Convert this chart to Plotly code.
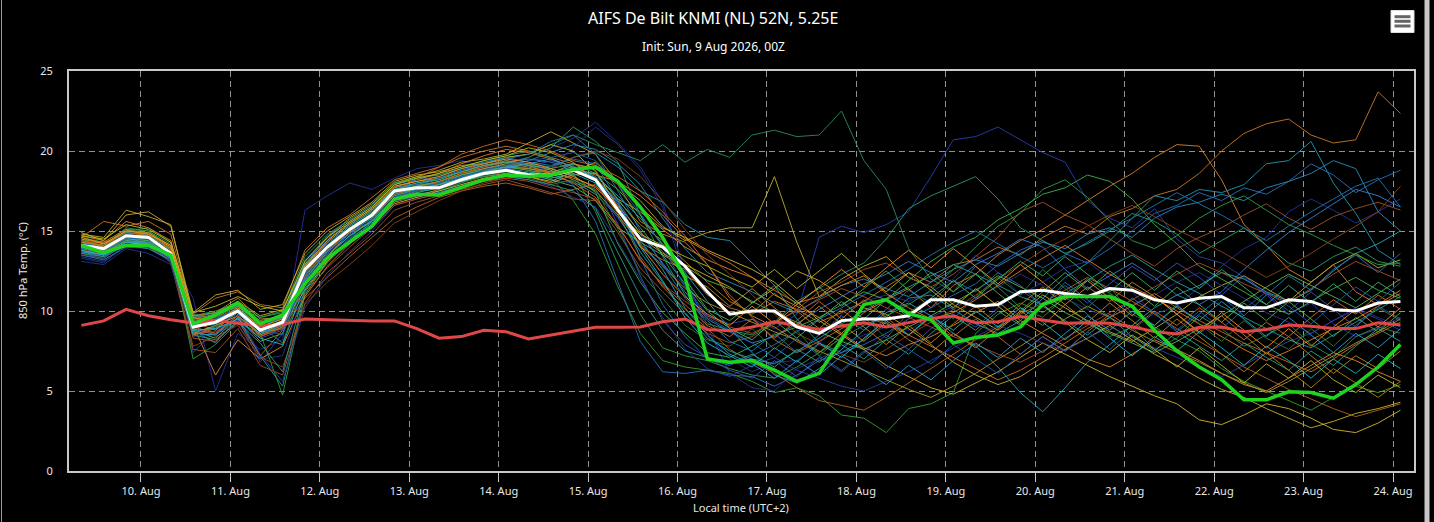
import pandas as pd
import plotly.graph_objects as go

# forecast steps in local time (UTC+2), 6-hourly
times = pd.date_range("2026-08-09 08:00", periods=60, freq="6h")

# ensemble mean (white)
ens_mean = [
    14.1, 13.9, 14.7, 14.6, 13.6, 9.0, 9.3, 10.0, 8.8, 9.3,
    12.6, 14.0, 15.1, 16.0, 17.5, 17.7, 17.7, 18.2, 18.6, 18.8,
    18.5, 18.5, 18.8, 18.2, 16.3, 14.5, 14.0, 12.8, 11.2, 9.8,
    10.0, 10.0, 9.0, 8.6, 9.4, 9.5, 9.5, 9.7, 10.7, 10.7,
    10.3, 10.4, 11.2, 11.3, 11.1, 10.9, 11.4, 11.3, 10.7, 10.5,
    10.8, 10.9, 10.2, 10.2, 10.7, 10.6, 10.1, 10.0, 10.5, 10.6,
]

# control run (green)
control = [
    14.1, 13.65, 14.1, 14.1, 13.5, 9.2, 9.75, 10.5, 9.2, 9.75,
    11.7, 13.3, 14.3, 15.3, 17.0, 17.3, 17.25, 17.7, 18.2, 18.5,
    18.4, 18.5, 18.85, 19.0, 18.1, 16.5, 14.6, 12.1, 7.0, 6.8,
    6.9, 6.3, 5.6, 6.1, 8.2, 10.4, 10.7, 9.85, 9.45, 8.0,
    8.35, 8.5, 9.0, 10.4, 10.9, 10.9, 10.9, 10.3, 8.8, 7.5,
    6.5, 5.7, 4.45, 4.45, 4.95, 4.9, 4.55, 5.4, 6.5, 7.9,
]

# climatology (red)
climate = [
    9.1, 9.38, 10.1, 9.7, 9.45, 9.25, 9.4, 9.23, 9.06, 9.15,
    9.5, 9.45, 9.4, 9.38, 9.38, 8.9, 8.3, 8.4, 8.8, 8.7,
    8.25, 8.5, 8.75, 8.98, 8.98, 9.0, 9.33, 9.5, 8.85, 8.77,
    9.0, 9.33, 9.1, 8.85, 9.06, 9.27, 9.0, 9.27, 9.54, 9.69,
    9.27, 9.33, 9.65, 9.44, 9.23, 9.27, 9.23, 9.02, 8.71, 8.56,
    8.98, 9.0, 8.71, 8.85, 9.12, 9.04, 8.9, 8.9, 9.27, 9.12,
]

member_01 = [
    13.3, 13.0, 14.2, 14.4, 13.2, 10.8, 5.0, 8.6, 7.6, 8.2,
    16.3, 17.2, 18.0, 17.6, 18.3, 18.9, 19.1, 19.4, 19.0, 19.3,
    19.6, 20.2, 20.8, 21.8, 20.5, 19.0, 16.8, 12.5, 8.5, 7.0,
    6.2, 6.8, 6.9, 7.9, 9.8, 10.6, 11.0, 10.6, 11.2, 12.0,
    13.5, 12.4, 11.0, 11.8, 12.7, 13.1, 12.0, 11.2, 9.8, 10.3,
    11.5, 12.8, 13.9, 14.6, 16.2, 17.0, 16.3, 15.5, 16.2, 17.0,
]
member_02 = [
    14.0, 13.6, 14.5, 14.3, 13.4, 7.4, 8.8, 9.5, 6.8, 8.6,
    12.0, 13.6, 14.8, 15.9, 17.2, 17.6, 17.8, 18.3, 18.4, 18.6,
    18.5, 18.2, 18.0, 17.6, 15.8, 14.0, 12.9, 11.6, 9.7, 9.2,
    9.5, 8.9, 9.8, 14.6, 15.3, 14.9, 15.4, 16.2, 18.4, 20.7,
    20.9, 21.5, 20.7, 19.9, 19.3, 16.9, 15.8, 15.2, 16.4, 14.5,
    13.4, 13.0, 12.1, 11.0, 9.8, 10.5, 9.2, 8.4, 8.9, 9.6,
]
member_03 = [
    14.4, 14.1, 15.0, 15.2, 14.3, 9.5, 9.1, 10.3, 9.0, 9.6,
    13.2, 14.6, 15.6, 16.5, 17.9, 18.4, 18.5, 18.9, 19.3, 19.6,
    19.8, 20.4, 21.0, 20.4, 19.9, 19.4, 20.4, 19.3, 20.1, 19.6,
    21.0, 21.3, 20.9, 21.0, 22.5, 19.4, 17.6, 13.9, 12.0, 11.2,
    12.8, 11.5, 10.2, 9.6, 10.9, 9.8, 8.4, 9.0, 7.6, 8.3,
    9.7, 8.9, 7.8, 8.5, 9.2, 7.9, 7.1, 8.4, 9.0, 8.6,
]
member_04 = [
    14.6, 15.6, 15.3, 15.6, 14.8, 9.8, 10.8, 11.2, 10.4, 10.2,
    13.8, 15.2, 16.0, 17.1, 18.2, 18.6, 19.0, 19.6, 20.0, 20.3,
    20.0, 19.6, 19.2, 18.8, 16.4, 14.0, 13.2, 12.6, 11.0, 10.2,
    9.8, 10.6, 10.1, 9.3, 9.9, 10.6, 11.5, 12.4, 11.8, 12.9,
    13.2, 14.0, 13.5, 14.6, 15.3, 14.8, 15.9, 16.4, 17.2, 17.6,
    18.6, 20.0, 21.1, 21.7, 22.0, 21.0, 20.5, 20.7, 23.7, 22.35,
]
member_05 = [
    13.9, 13.7, 14.4, 14.1, 13.5, 8.5, 8.9, 9.9, 8.4, 9.0,
    11.6, 13.4, 14.9, 15.6, 17.0, 17.5, 17.9, 18.5, 18.8, 19.1,
    18.9, 18.6, 19.2, 18.9, 17.9, 15.6, 14.8, 14.3, 12.9, 10.8,
    9.7, 9.0, 8.1, 7.4, 8.6, 9.9, 10.7, 11.4, 10.2, 11.6,
    12.3, 13.5, 14.4, 15.1, 16.0, 16.9, 17.8, 18.6, 19.6, 20.4,
    20.3, 18.2, 15.4, 14.1, 12.6, 11.8, 12.9, 11.2, 10.4, 11.3,
]
member_06 = [
    13.5, 13.2, 14.0, 14.0, 13.1, 8.8, 8.0, 9.6, 7.2, 5.3,
    11.2, 13.0, 14.4, 15.6, 17.0, 17.3, 17.5, 18.0, 18.6, 18.9,
    19.2, 19.0, 19.6, 19.9, 19.0, 17.5, 16.8, 15.4, 14.6, 14.4,
    13.0, 11.6, 9.5, 8.0, 7.4, 8.2, 9.6, 10.8, 11.0, 10.1,
    9.2, 8.6, 9.4, 10.8, 12.1, 13.0, 14.4, 15.8, 17.2, 16.9,
    17.6, 17.4, 17.9, 19.2, 19.4, 20.6, 18.0, 16.1, 13.8, 12.9,
]
member_07 = [
    14.2, 13.9, 14.8, 14.6, 13.7, 7.0, 7.9, 9.3, 8.6, 4.75,
    11.0, 13.1, 14.6, 15.7, 17.3, 17.6, 17.9, 18.2, 18.7, 19.0,
    18.8, 18.3, 16.9, 14.8, 11.5, 8.6, 6.9, 6.5, 6.3, 6.1,
    5.6, 4.9, 5.2, 4.7, 3.5, 3.3, 2.4, 3.9, 4.2, 4.9,
    8.6, 9.8, 10.5, 9.9, 10.8, 12.0, 11.1, 10.2, 9.0, 8.2,
    7.5, 6.4, 5.6, 5.0, 4.4, 3.8, 4.6, 5.3, 4.9, 5.4,
]
member_08 = [
    14.8, 14.6, 16.3, 15.9, 15.4, 9.6, 9.9, 10.6, 9.7, 10.1,
    12.9, 14.6, 15.8, 16.7, 18.0, 18.4, 18.8, 19.3, 19.5, 19.8,
    20.5, 21.2, 20.5, 19.8, 18.0, 16.9, 15.3, 14.4, 14.9, 15.2,
    15.2, 18.4, 14.3, 10.9, 12.0, 12.8, 13.4, 12.1, 11.5, 10.4,
    9.6, 8.8, 9.9, 11.0, 10.2, 9.4, 8.7, 8.1, 8.9, 9.8,
    10.9, 11.6, 12.2, 11.4, 10.6, 11.8, 12.9, 13.6, 12.7, 13.2,
]
member_09 = [
    13.6, 13.8, 14.1, 14.3, 13.0, 7.6, 7.4, 8.9, 6.6, 6.0,
    10.5, 12.4, 13.6, 14.8, 16.3, 16.8, 17.2, 17.6, 17.9, 18.2,
    17.8, 17.4, 17.0, 16.9, 14.9, 12.7, 11.2, 9.8, 8.6, 8.0,
    8.4, 9.2, 10.1, 11.2, 11.8, 12.6, 13.0, 12.1, 11.5, 12.3,
    13.4, 14.6, 16.2, 16.8, 16.0, 15.4, 14.5, 13.6, 12.8, 13.9,
    14.6, 15.2, 16.0, 16.7, 15.8, 15.1, 15.9, 16.4, 16.8, 16.3,
]
member_10 = [
    14.3, 13.9, 14.6, 14.8, 13.8, 9.3, 9.6, 10.1, 9.1, 9.8,
    13.0, 14.5, 15.5, 16.4, 17.6, 17.9, 18.2, 18.7, 19.0, 19.4,
    19.1, 18.8, 17.9, 15.6, 11.8, 8.1, 6.2, 6.1, 6.3, 6.0,
    5.9, 5.3, 6.0, 6.9, 7.4, 7.9, 8.6, 9.5, 10.2, 11.0,
    11.7, 12.9, 13.8, 14.4, 13.6, 13.0, 13.9, 15.0, 16.1, 16.6,
    17.4, 16.9, 17.7, 17.3, 18.1, 19.2, 18.5, 17.4, 18.2, 18.8,
]
member_11 = [
    14.0, 14.2, 14.9, 14.7, 13.9, 9.1, 6.0, 8.2, 7.0, 7.8,
    10.9, 12.8, 14.2, 15.3, 16.8, 17.2, 17.6, 18.1, 18.4, 18.6,
    18.4, 18.0, 18.5, 18.6, 17.0, 16.2, 15.1, 14.0, 13.2, 12.6,
    12.1, 11.0, 10.3, 9.6, 8.6, 7.7, 7.2, 7.9, 8.4, 9.1,
    9.9, 10.6, 9.4, 8.6, 7.8, 7.0, 6.5, 7.3, 8.2, 7.6,
    6.9, 6.1, 5.4, 5.0, 5.8, 6.6, 7.4, 6.9, 6.2, 5.6,
]
member_12 = [
    14.5, 14.0, 15.2, 15.0, 14.0, 9.8, 9.4, 10.2, 9.6, 9.9,
    12.2, 14.0, 15.2, 16.1, 17.5, 17.8, 17.9, 18.3, 18.9, 19.2,
    19.6, 20.2, 21.5, 20.6, 19.3, 16.0, 13.4, 11.0, 9.2, 8.8,
    8.5, 9.3, 10.6, 11.4, 12.3, 13.0, 14.5, 16.4, 17.2, 17.8,
    18.4, 17.0, 15.2, 14.4, 13.6, 14.2, 15.0, 16.1, 15.6, 14.8,
    13.6, 14.4, 15.2, 14.1, 13.0, 12.5, 13.4, 14.0, 13.1, 12.8,
]
member_13 = [
    13.1, 12.9, 13.9, 13.6, 12.9, 8.4, 8.6, 9.2, 7.0, 7.2,
    11.4, 13.3, 14.6, 15.4, 16.9, 17.1, 17.4, 17.9, 18.2, 18.5,
    18.7, 19.0, 20.2, 21.5, 20.4, 18.8, 16.5, 12.0, 9.0, 6.1,
    5.2, 5.0, 6.4, 7.0, 7.8, 8.5, 9.0, 8.8, 9.6, 10.3,
    10.8, 11.5, 12.3, 11.6, 10.8, 10.1, 9.6, 10.4, 11.0, 11.8,
    12.4, 11.6, 10.8, 9.9, 9.3, 8.6, 9.4, 10.2, 9.6, 9.0,
]
member_14 = [
    14.9, 14.4, 16.0, 16.2, 15.3, 9.9, 11.0, 11.3, 10.1, 10.4,
    13.6, 15.0, 15.9, 16.8, 18.1, 18.5, 18.7, 19.1, 19.2, 19.6,
    19.8, 20.4, 20.0, 18.7, 16.5, 14.6, 13.6, 12.9, 12.2, 11.5,
    10.5, 11.4, 12.5, 11.9, 11.0, 10.2, 9.8, 8.9, 7.9, 6.8,
    6.0, 5.4, 5.9, 6.8, 7.6, 8.3, 9.1, 8.2, 7.3, 6.6,
    5.8, 5.1, 4.6, 3.9, 3.3, 2.7, 3.1, 3.6, 3.9, 4.3,
]
member_15 = [
    13.7, 13.4, 14.3, 14.4, 13.4, 8.9, 8.5, 9.8, 8.8, 9.2,
    12.4, 13.8, 15.0, 15.9, 17.3, 17.7, 18.0, 18.4, 18.8, 19.0,
    19.4, 19.9, 20.4, 20.1, 19.2, 17.9, 15.8, 13.9, 12.4, 11.8,
    11.2, 10.5, 9.9, 10.8, 11.6, 12.0, 11.4, 10.9, 11.8, 12.6,
    13.2, 12.8, 13.6, 14.3, 13.9, 14.8, 15.2, 14.6, 15.8, 16.5,
    16.8, 17.3, 16.9, 17.7, 18.1, 18.6, 19.4, 18.9, 16.2, 15.0,
]
member_16 = [
    14.2, 14.3, 14.5, 14.9, 14.0, 9.4, 9.7, 10.4, 9.3, 9.5,
    11.9, 13.7, 14.9, 16.1, 17.4, 18.3, 19.0, 19.8, 20.3, 20.7,
    20.4, 20.0, 19.4, 19.1, 18.4, 17.5, 16.2, 14.7, 12.9, 11.0,
    9.6, 8.2, 7.4, 8.1, 8.9, 9.6, 9.2, 8.5, 7.8, 7.1,
    6.4, 5.7, 6.3, 7.1, 8.0, 8.9, 9.6, 10.3, 11.1, 10.2,
    9.4, 8.7, 8.0, 7.4, 6.8, 6.2, 7.0, 7.9, 8.6, 9.3,
]
member_17 = [
    14.1, 13.5, 14.3, 14.1, 13.3, 8.7, 9.0, 9.9, 8.5, 9.1,
    12.5, 13.9, 15.1, 15.9, 17.4, 17.6, 17.7, 18.1, 18.5, 18.7,
    18.6, 18.9, 18.5, 17.4, 14.2, 11.8, 9.9, 8.6, 7.4, 7.1,
    7.8, 8.5, 9.0, 9.6, 10.4, 11.2, 10.7, 11.9, 13.1, 14.0,
    14.6, 15.7, 16.4, 17.3, 17.7, 18.5, 18.1, 17.0, 15.4, 14.2,
    12.8, 12.0, 11.2, 10.4, 9.8, 10.6, 11.4, 12.1, 11.3, 10.8,
]
member_18 = [
    13.9, 13.6, 14.4, 14.5, 13.5, 9.0, 9.2, 10.0, 8.9, 9.4,
    12.8, 14.2, 15.3, 16.2, 17.7, 18.0, 18.3, 18.8, 19.1, 19.3,
    19.5, 19.3, 18.9, 18.3, 16.8, 14.8, 13.0, 11.2, 9.5, 8.7,
    8.0, 8.4, 9.2, 10.1, 10.9, 11.7, 12.3, 13.1, 12.4, 11.8,
    12.9, 13.6, 14.5, 14.0, 12.6, 11.4, 12.2, 13.0, 12.1, 11.0,
    10.4, 11.2, 12.6, 13.8, 14.9, 15.8, 16.7, 17.6, 17.2, 16.5,
]
member_19 = [
    14.4, 14.1, 14.9, 14.7, 13.9, 8.3, 8.1, 9.4, 7.2, 8.8,
    10.8, 12.1, 13.4, 14.6, 15.8, 16.5, 17.1, 17.5, 17.8, 18.0,
    17.7, 17.3, 17.6, 17.9, 16.1, 13.4, 11.5, 10.1, 8.9, 7.6,
    6.8, 6.1, 5.2, 4.4, 4.1, 3.8, 4.6, 5.5, 6.4, 7.3,
    8.2, 9.0, 9.8, 10.5, 11.3, 12.1, 11.4, 10.6, 9.8, 8.9,
    8.1, 7.3, 6.5, 5.8, 5.1, 4.5, 3.9, 3.4, 3.8, 4.2,
]
member_20 = [
    14.0, 13.7, 14.6, 14.2, 13.6, 9.2, 9.5, 9.9, 8.7, 8.9,
    12.1, 13.9, 15.2, 16.0, 17.4, 17.8, 18.1, 18.5, 18.9, 19.1,
    18.9, 18.7, 19.0, 18.4, 17.2, 15.8, 14.2, 12.4, 10.6, 8.9,
    7.4, 6.0, 5.5, 6.4, 7.6, 8.8, 9.9, 10.5, 9.7, 8.6,
    7.8, 6.5, 4.9, 3.7, 5.2, 6.8, 7.9, 9.1, 10.2, 11.0,
    11.6, 12.4, 12.0, 11.2, 10.6, 11.3, 12.5, 13.6, 14.2, 15.0,
]
member_21 = [
    13.8, 13.5, 14.3, 14.1, 13.4, 8.6, 9.1, 9.7, 8.6, 9.2,
    11.3, 13.1, 14.4, 15.3, 16.7, 17.1, 17.5, 17.9, 18.3, 18.5,
    18.4, 18.1, 18.7, 19.3, 18.0, 16.5, 15.2, 14.6, 13.8, 13.2,
    12.6, 11.8, 10.6, 9.4, 8.5, 7.6, 6.6, 5.9, 5.2, 4.8,
    5.5, 6.2, 7.1, 8.0, 7.3, 6.6, 5.9, 5.3, 4.7, 4.2,
    3.2, 2.9, 3.5, 4.2, 3.9, 3.3, 2.6, 2.4, 3.0, 3.8,
]
member_22 = [
    14.6, 14.3, 15.1, 15.0, 14.2, 9.7, 10.0, 10.5, 9.6, 10.0,
    13.4, 14.8, 15.7, 16.6, 18.0, 18.3, 18.5, 19.0, 19.4, 19.7,
    20.0, 19.6, 18.6, 16.2, 12.9, 9.8, 7.7, 7.2, 6.9, 6.4,
    6.0, 5.8, 6.5, 7.4, 8.3, 9.1, 9.7, 10.4, 11.3, 12.6,
    14.0, 15.3, 16.1, 17.6, 18.2, 17.1, 15.6, 14.4, 13.9, 14.7,
    15.8, 16.6, 17.2, 16.3, 15.4, 14.8, 14.1, 13.5, 12.9, 13.0,
]
member_23 = [
    14.7, 14.4, 15.6, 15.2, 14.4, 9.3, 8.8, 10.0, 8.8, 9.4,
    12.7, 14.3, 15.4, 16.3, 17.7, 18.2, 18.6, 19.2, 19.7, 20.1,
    19.9, 19.5, 19.0, 18.5, 18.1, 17.2, 16.0, 14.5, 13.7, 13.0,
    12.1, 11.3, 10.5, 10.9, 11.6, 12.2, 11.1, 10.2, 9.5, 9.9,
    10.7, 11.6, 12.5, 13.3, 14.1, 13.2, 12.3, 11.5, 10.8, 10.0,
    9.2, 8.4, 7.6, 6.9, 7.5, 8.2, 8.9, 9.5, 10.3, 11.1,
]
member_24 = [
    13.4, 13.1, 14.0, 13.9, 13.1, 8.9, 9.3, 9.7, 7.3, 5.6,
    10.2, 12.2, 13.7, 15.0, 16.6, 17.0, 17.4, 17.8, 18.1, 18.4,
    18.2, 17.8, 17.1, 16.5, 14.3, 12.0, 9.6, 7.6, 6.4, 5.9,
    6.6, 7.1, 6.3, 5.8, 5.3, 5.0, 5.6, 6.2, 6.9, 7.7,
    8.4, 9.1, 8.6, 8.0, 7.5, 8.3, 9.0, 8.4, 7.7, 7.1,
    6.5, 5.9, 6.6, 7.4, 8.1, 8.6, 9.4, 10.1, 9.5, 8.8,
]
member_25 = [
    14.3, 14.0, 14.9, 14.8, 13.8, 9.1, 9.4, 10.1, 9.0, 9.6,
    12.3, 14.1, 15.3, 16.2, 17.6, 17.9, 18.0, 18.4, 18.7, 18.9,
    18.7, 18.4, 18.1, 17.3, 15.9, 13.7, 11.8, 9.9, 8.3, 7.5,
    7.0, 6.7, 7.5, 8.3, 9.2, 10.0, 10.8, 11.5, 12.2, 12.9,
    12.3, 11.6, 10.9, 10.4, 11.1, 11.9, 12.8, 13.5, 12.6, 11.8,
    11.1, 10.3, 9.6, 8.9, 8.2, 7.7, 8.5, 9.3, 10.1, 10.9,
]
member_26 = [
    13.6, 13.3, 14.2, 14.0, 13.3, 7.8, 8.4, 9.1, 7.1, 6.5,
    10.4, 11.8, 12.9, 14.1, 15.5, 16.2, 16.9, 17.5, 18.0, 18.3,
    18.5, 18.9, 19.6, 20.0, 19.5, 18.4, 16.9, 15.1, 13.5, 12.3,
    11.0, 9.8, 8.6, 7.9, 7.3, 6.8, 7.6, 8.5, 9.3, 10.1,
    11.0, 12.0, 12.9, 13.8, 14.5, 15.3, 16.0, 16.6, 15.9, 15.1,
    14.4, 13.7, 12.9, 12.1, 12.8, 13.6, 14.5, 15.3, 16.2, 17.8,
]
member_27 = [
    14.0, 13.8, 14.5, 14.4, 13.6, 8.8, 8.3, 9.6, 8.1, 8.6,
    11.8, 13.5, 14.7, 15.7, 17.1, 17.5, 17.8, 18.2, 18.6, 18.8,
    18.6, 18.2, 17.8, 16.9, 15.2, 14.3, 13.5, 12.8, 11.9, 11.4,
    10.6, 9.9, 9.3, 8.7, 8.1, 7.6, 8.2, 9.0, 9.7, 10.5,
    11.3, 12.2, 11.5, 10.8, 9.9, 9.2, 8.6, 8.0, 7.4, 8.1,
    8.9, 9.7, 10.6, 11.5, 12.3, 11.6, 10.9, 10.2, 11.1, 12.0,
]
member_28 = [
    14.5, 14.2, 15.0, 14.9, 14.1, 9.5, 9.8, 10.4, 9.4, 9.7,
    12.9, 14.4, 15.5, 16.4, 17.8, 18.1, 18.3, 18.7, 19.1, 19.4,
    19.2, 18.8, 18.2, 17.5, 16.0, 14.2, 12.8, 11.4, 10.5, 9.9,
    9.3, 8.7, 8.2, 7.5, 6.9, 6.3, 5.7, 5.1, 4.6, 5.3,
    6.1, 7.0, 7.8, 8.7, 9.5, 10.3, 9.6, 8.8, 8.1, 7.4,
    6.8, 6.1, 5.5, 4.9, 5.6, 6.4, 7.2, 8.0, 8.7, 9.5,
]
member_29 = [
    14.1, 13.8, 14.7, 14.5, 13.6, 9.6, 9.9, 10.3, 9.2, 9.5,
    13.1, 14.7, 15.7, 16.6, 17.9, 18.2, 18.4, 18.9, 19.3, 19.6,
    19.3, 19.1, 19.5, 19.2, 16.9, 13.3, 10.4, 8.4, 7.0, 6.6,
    7.2, 7.9, 8.7, 9.5, 10.2, 11.0, 11.8, 12.6, 13.5, 14.3,
    15.0, 14.2, 13.4, 12.7, 13.5, 14.3, 15.1, 15.8, 16.6, 17.4,
    16.7, 16.0, 15.2, 14.4, 15.3, 16.2, 17.0, 17.8, 18.3, 16.5,
]
member_30 = [
    13.8, 13.6, 14.4, 14.2, 13.4, 8.6, 8.7, 9.5, 8.4, 8.9,
    11.1, 12.7, 14.0, 15.2, 16.6, 17.0, 17.3, 17.7, 18.1, 18.3,
    18.1, 17.7, 17.4, 17.0, 15.4, 13.1, 11.7, 10.6, 9.7, 9.0,
    8.6, 9.3, 10.0, 10.7, 11.4, 10.9, 10.2, 9.6, 9.0, 8.4,
    7.9, 7.3, 6.8, 7.5, 8.3, 9.1, 9.9, 10.7, 11.5, 12.3,
    13.0, 12.4, 11.7, 11.1, 10.5, 11.4, 12.3, 13.1, 12.5, 11.9,
]
member_31 = [
    14.2, 13.8, 14.6, 14.5, 13.7, 9.4, 9.0, 10.4, 9.1, 8.0,
    12.0, 13.8, 15.0, 15.8, 17.2, 17.5, 17.6, 18.0, 18.4, 18.7,
    18.3, 17.9, 18.2, 17.6, 15.1, 12.4, 10.8, 9.1, 8.2, 7.8,
    8.9, 7.6, 8.8, 7.2, 8.4, 9.6, 8.3, 9.9, 10.8, 9.5,
    10.9, 12.1, 11.0, 12.6, 11.4, 10.2, 11.5, 9.8, 9.1, 10.4,
    9.2, 8.1, 9.4, 8.3, 7.6, 8.9, 7.8, 9.1, 10.2, 9.4,
]
member_32 = [
    13.9, 13.7, 14.5, 14.6, 13.5, 9.1, 9.5, 10.2, 8.8, 9.3,
    12.6, 14.1, 15.2, 16.0, 17.5, 17.9, 18.3, 18.8, 19.2, 19.5,
    19.8, 20.6, 21.0, 19.8, 17.5, 15.0, 12.9, 10.8, 9.4, 8.1,
    7.5, 8.6, 7.4, 8.5, 9.7, 8.8, 10.1, 11.3, 10.5, 11.9,
    11.2, 12.4, 11.6, 10.3, 11.8, 10.7, 9.6, 10.8, 9.9, 8.7,
    9.8, 10.9, 9.7, 11.0, 12.2, 11.3, 12.6, 13.5, 12.4, 13.6,
]
member_33 = [
    14.3, 14.1, 15.0, 14.9, 13.9, 9.7, 9.9, 10.8, 9.5, 9.6,
    12.4, 13.9, 15.0, 16.1, 17.5, 17.8, 18.1, 18.6, 18.9, 19.2,
    19.0, 18.7, 18.3, 17.8, 16.6, 14.9, 13.7, 12.2, 11.5, 10.3,
    11.4, 10.2, 9.1, 10.3, 9.2, 8.1, 9.3, 8.2, 7.4, 8.6,
    7.7, 8.9, 10.0, 9.1, 10.4, 11.5, 10.6, 11.8, 10.9, 9.8,
    8.6, 9.7, 8.5, 7.3, 8.4, 7.2, 6.1, 7.2, 6.4, 7.5,
]
member_34 = [
    13.6, 13.4, 14.1, 13.9, 13.2, 8.5, 8.2, 9.3, 8.0, 6.2,
    11.4, 13.2, 14.5, 15.5, 16.9, 17.2, 17.4, 17.8, 18.2, 18.4,
    18.2, 17.9, 17.5, 16.4, 13.6, 10.9, 8.8, 7.5, 7.1, 6.7,
    7.3, 6.5, 7.6, 6.8, 7.9, 7.0, 8.2, 7.3, 8.6, 9.7,
    8.8, 10.0, 9.1, 10.3, 9.4, 8.5, 9.6, 8.4, 7.5, 8.7,
    7.8, 6.9, 8.0, 7.1, 6.3, 7.5, 6.6, 7.8, 8.9, 8.1,
]
member_35 = [
    14.7, 14.5, 15.4, 15.1, 14.3, 9.9, 10.3, 10.9, 10.3, 10.0,
    13.1, 14.6, 15.6, 16.5, 17.9, 18.3, 18.6, 19.0, 19.4, 19.7,
    20.2, 19.9, 19.3, 18.1, 16.2, 14.8, 14.1, 13.4, 12.8, 12.1,
    11.5, 12.6, 11.4, 12.5, 13.6, 12.3, 11.2, 12.4, 11.3, 10.2,
    11.4, 10.3, 9.2, 10.4, 9.3, 8.2, 7.4, 8.5, 7.6, 6.5,
    7.7, 6.6, 5.5, 6.7, 5.8, 6.9, 5.7, 4.9, 6.0, 5.2,
]
member_36 = [
    13.5, 13.3, 14.2, 14.1, 13.2, 8.7, 8.9, 9.4, 8.3, 8.8,
    11.9, 13.6, 14.8, 15.7, 17.1, 17.5, 17.8, 18.2, 18.6, 18.9,
    19.0, 19.4, 19.1, 18.2, 15.4, 12.2, 9.4, 7.9, 7.1, 6.3,
    5.8, 6.9, 5.9, 7.1, 6.2, 7.4, 8.5, 7.6, 8.9, 9.8,
    9.0, 10.2, 11.3, 10.4, 11.6, 10.5, 11.7, 12.8, 11.9, 13.0,
    12.1, 11.0, 12.2, 11.1, 10.0, 11.2, 10.1, 9.0, 10.3, 9.5,
]
member_37 = [
    14.4, 14.0, 14.8, 14.6, 13.8, 9.0, 8.6, 9.7, 8.5, 9.0,
    12.2, 13.8, 15.0, 15.9, 17.3, 17.7, 18.1, 18.6, 19.0, 19.3,
    19.1, 18.6, 18.0, 17.1, 15.3, 13.2, 11.6, 10.4, 9.1, 8.4,
    9.5, 8.3, 9.4, 10.6, 9.5, 10.7, 9.6, 8.5, 9.6, 8.4,
    9.5, 8.4, 7.3, 8.4, 7.5, 8.7, 9.8, 8.9, 10.0, 9.1,
    10.2, 9.3, 8.2, 9.3, 8.4, 9.6, 10.7, 9.8, 11.0, 10.1,
]
member_38 = [
    14.0, 13.6, 14.4, 14.3, 13.5, 8.9, 9.3, 10.0, 8.9, 9.3,
    12.7, 14.1, 15.2, 16.1, 17.5, 17.8, 18.0, 18.5, 18.8, 19.0,
    18.8, 18.5, 18.8, 18.6, 17.6, 16.0, 14.1, 12.0, 10.1, 9.4,
    10.5, 11.6, 10.4, 11.5, 10.3, 11.4, 12.5, 11.3, 12.4, 11.2,
    12.3, 11.1, 10.0, 11.2, 12.4, 11.3, 12.5, 11.4, 10.3, 11.5,
    10.4, 9.3, 10.5, 9.4, 10.6, 9.5, 8.4, 9.6, 8.7, 9.9,
]
member_39 = [
    13.8, 13.5, 14.3, 14.2, 13.3, 8.8, 8.9, 9.5, 8.3, 7.9,
    11.6, 13.4, 14.7, 15.6, 17.0, 17.4, 17.7, 18.1, 18.5, 18.8,
    18.6, 18.3, 18.6, 18.0, 16.3, 14.0, 11.9, 9.6, 8.0, 7.2,
    6.5, 7.7, 6.8, 8.0, 7.1, 8.3, 9.4, 8.5, 9.7, 8.8,
    10.0, 9.0, 10.2, 9.3, 8.2, 9.4, 8.3, 7.2, 8.4, 7.5,
    8.7, 7.7, 6.6, 7.8, 6.9, 5.8, 7.0, 6.1, 7.3, 6.4,
]
member_40 = [
    14.5, 14.3, 15.1, 14.8, 14.0, 9.2, 9.6, 10.3, 9.2, 9.7,
    12.5, 14.0, 15.1, 16.0, 17.4, 17.7, 17.9, 18.3, 18.7, 19.0,
    18.9, 18.6, 18.9, 18.3, 16.9, 15.4, 14.4, 13.1, 11.8, 10.6,
    9.9, 11.1, 10.0, 8.9, 10.1, 9.0, 7.9, 9.1, 8.0, 9.2,
    10.3, 9.2, 10.4, 11.5, 10.4, 9.3, 10.5, 9.4, 8.3, 9.5,
    8.4, 7.3, 6.2, 7.4, 6.3, 5.2, 6.4, 5.5, 4.6, 5.6,
]
member_41 = [
    14.1, 13.9, 14.7, 14.7, 13.7, 9.3, 9.7, 10.3, 9.3, 9.6,
    12.9, 14.3, 15.4, 16.3, 17.6, 18.0, 18.2, 18.7, 19.1, 19.3,
    19.1, 18.9, 19.2, 18.6, 17.0, 15.2, 13.5, 11.7, 10.0, 8.9,
    8.2, 9.4, 8.3, 9.5, 10.6, 9.5, 10.7, 9.6, 10.8, 11.9,
    10.8, 12.0, 13.1, 12.2, 13.4, 12.3, 11.2, 12.4, 11.3, 12.5,
    11.4, 12.6, 11.5, 10.4, 11.6, 10.5, 11.7, 10.6, 11.8, 10.9,
]
member_42 = [
    14.2, 13.9, 14.8, 14.6, 13.6, 9.5, 9.2, 9.9, 8.9, 8.5,
    12.3, 13.9, 15.1, 16.0, 17.4, 17.7, 18.0, 18.4, 18.8, 19.1,
    19.4, 19.6, 19.9, 19.4, 17.9, 16.1, 14.0, 11.5, 9.6, 8.8,
    8.0, 7.1, 8.3, 7.2, 6.3, 7.5, 6.4, 7.6, 6.7, 7.9,
    7.0, 6.1, 7.3, 8.4, 7.5, 8.7, 7.6, 8.8, 9.9, 8.8,
    10.0, 8.9, 10.1, 11.2, 10.3, 9.2, 10.4, 11.5, 10.6, 11.8,
]
member_43 = [
    14.6, 14.2, 15.0, 14.8, 14.1, 9.6, 9.3, 10.2, 9.0, 9.5,
    12.8, 14.4, 15.5, 16.4, 17.8, 18.1, 18.4, 18.9, 19.2, 19.5,
    19.3, 18.9, 18.4, 17.7, 16.4, 14.1, 12.3, 10.9, 9.8, 9.1,
    10.3, 9.2, 10.4, 11.5, 12.6, 11.5, 12.7, 13.8, 12.7, 13.9,
    12.8, 11.7, 12.9, 11.8, 10.7, 11.9, 10.8, 9.7, 10.9, 9.8,
    8.7, 9.9, 8.8, 7.7, 8.9, 7.8, 9.0, 10.1, 9.0, 10.2,
]
member_44 = [
    13.7, 13.5, 14.3, 14.3, 13.4, 8.6, 8.5, 9.6, 8.6, 9.1,
    12.0, 13.7, 14.9, 15.8, 17.2, 17.6, 17.9, 18.3, 18.7, 19.0,
    19.2, 19.5, 19.0, 18.3, 16.7, 14.4, 12.6, 10.2, 8.5, 7.3,
    6.7, 5.8, 6.9, 6.0, 7.2, 6.3, 5.4, 6.6, 5.7, 6.9,
    8.0, 7.1, 8.3, 7.4, 8.6, 9.7, 8.8, 10.0, 9.1, 10.3,
    9.4, 10.6, 9.5, 8.4, 9.6, 8.5, 7.4, 8.6, 7.7, 8.9,
]

members = [
    member_01, member_02, member_03, member_04, member_05, member_06,
    member_07, member_08, member_09, member_10, member_11, member_12,
    member_13, member_14, member_15, member_16, member_17, member_18,
    member_19, member_20, member_21, member_22, member_23, member_24,
    member_25, member_26, member_27, member_28, member_29, member_30,
    member_31, member_32, member_33, member_34, member_35, member_36,
    member_37, member_38, member_39, member_40, member_41, member_42,
    member_43, member_44,
]
member_colors = [
    "#23339a", "#2a3fb0", "#2e8b57", "#c8782a", "#d9822b", "#1f9ab0",
    "#33a02c", "#bfae2c", "#a0522d", "#2c6fbf", "#e08a30", "#2a9d6a",
    "#26348c", "#c9b02e", "#2b8cbe", "#cf6a1e", "#3bb54a", "#3a7fd5",
    "#b5651d", "#27a6b8", "#d4b62c", "#2f9e44", "#e67e22", "#2b3f9e",
    "#20a39e", "#8b4513", "#57b85a", "#a89a2a", "#1f77b4", "#b34a2a",
    "#2e7d32", "#1f78b4", "#c0862e", "#2ca089", "#bcbd22", "#3f51b5",
    "#d2691e", "#4caf50", "#17becf", "#b8860b", "#3cb371", "#1e5aa8",
    "#ff8c1a", "#2a9fd6",
]

W, H = 1434, 522
ML, MR, MT, MB = 69, 20, 71, 51


def px(x):
    return (x - ML) / (W - ML - MR)


def py(y):
    return (H - MB - y) / (H - MT - MB)


fig = go.Figure()

for vals, col in zip(members, member_colors):
    fig.add_trace(go.Scatter(x=times, y=vals, mode="lines", line=dict(color=col, width=1),
                             opacity=0.9, hoverinfo="skip"))

fig.add_trace(go.Scatter(x=times, y=climate, mode="lines", name="Climate",
                         line=dict(color="#e04848", width=3)))
fig.add_trace(go.Scatter(x=times, y=ens_mean, mode="lines", name="Mean",
                         line=dict(color="#ffffff", width=3)))
fig.add_trace(go.Scatter(x=times, y=control, mode="lines", name="Control",
                         line=dict(color="#1ed41e", width=3.5)))

grid = "rgba(170,170,170,0.85)"
frame = "#c8c8c8"
txt = "#e8e8e8"

fig.update_xaxes(type="date", range=["2026-08-09 04:41", "2026-08-24 05:38"],
                 tickformat="%d. %b", tick0="2026-08-10", dtick=86400000,
                 showgrid=True, gridcolor=grid, gridwidth=1, griddash="6px,4px",
                 showline=True, linecolor=frame, linewidth=2, mirror=True,
                 ticks="outside", ticklen=9, tickcolor=frame, zeroline=False,
                 automargin=False, tickfont=dict(size=11, color=txt))
fig.update_yaxes(range=[0, 25], tick0=0, dtick=5,
                 showgrid=True, gridcolor=grid, gridwidth=1, griddash="6px,4px",
                 showline=True, linecolor=frame, linewidth=2, mirror=True,
                 ticks="", zeroline=False, ticklabelstandoff=12,
                 automargin=False, tickfont=dict(size=11, color=txt))

# export-menu button (top right) and page edges
shapes = [
    dict(type="rect", xref="paper", yref="paper", x0=px(1391), x1=px(1414), y0=py(32.5), y1=py(10.5),
         fillcolor="#ffffff", line=dict(color="#dddddd", width=1), layer="above"),
    dict(type="line", xref="paper", yref="paper", x0=px(1427), x1=px(1427), y0=py(H), y1=py(0),
         line=dict(color="#c8c8c8", width=5)),
    dict(type="line", xref="paper", yref="paper", x0=px(1.5), x1=px(1.5), y0=py(H), y1=py(0),
         line=dict(color="#9a9a9a", width=1)),
]
for yb in (16.7, 21.3, 26.0):
    shapes.append(dict(type="line", xref="paper", yref="paper", x0=px(1394.5), x1=px(1410.5),
                       y0=py(yb), y1=py(yb), line=dict(color="#666666", width=3), layer="above"))

fig.update_layout(
    width=W, height=H,
    margin=dict(l=ML, r=MR, t=MT, b=MB),
    paper_bgcolor="#000000", plot_bgcolor="#000000",
    font=dict(family="Noto Sans, DejaVu Sans, sans-serif", size=11, color=txt),
    showlegend=False,
    shapes=shapes,
    annotations=[
        dict(text="AIFS De Bilt KNMI (NL) 52N, 5.25E", xref="paper", yref="paper",
             x=px(713), y=py(18), xanchor="center", yanchor="middle", showarrow=False,
             font=dict(size=16, color="#ffffff")),
        dict(text="Init: Sun, 9 Aug 2026, 00Z", xref="paper", yref="paper",
             x=px(713), y=py(46), xanchor="center", yanchor="middle", showarrow=False,
             font=dict(size=12, color="#ffffff")),
        dict(text="Local time (UTC+2)", xref="paper", yref="paper",
             x=px(741), y=py(507), xanchor="center", yanchor="middle", showarrow=False,
             font=dict(size=11, color=txt)),
        dict(text="850 hPa Temp. (°C)", xref="paper", yref="paper", textangle=-90,
             x=px(22), y=py(271), xanchor="center", yanchor="middle", showarrow=False,
             font=dict(size=11, color=txt)),
    ],
)

fig.write_html("out.html", config={"displayModeBar": False},
               post_script="document.body.style.margin='0';")
